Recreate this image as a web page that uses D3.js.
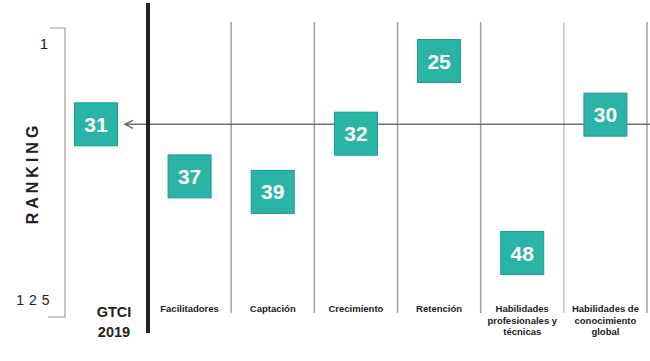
<!DOCTYPE html>
<html><head><meta charset="utf-8">
<script src="https://cdn.jsdelivr.net/npm/d3@7"></script>
<style>body{margin:0;background:#fff}svg{display:block}</style>
</head><body>
<svg id="c" width="650" height="361"></svg>
<script>
const categories = [["Facilitadores"],["Captación"],["Crecimiento"],["Retención"],["Habilidades","profesionales y","técnicas"],["Habilidades de","conocimiento","global"]];
const ranks = [37, 39, 32, 25, 48, 30];
const overallLabel = ["GTCI","2019"];
const overallRank = 31;
const axisTicks = ["1","1 2 5"];
const axisTitle = "RANKING";

const svg = d3.select("#c");
const teal = "#2ab4a5", border = "#1f9a8c";
const font = "Liberation Sans, Arial, sans-serif";

const x = d3.scaleBand().domain(d3.range(categories.length)).range([148, 647]);
const y = d3.scaleLog().domain([25, 48]).range([61, 253]);

// vertical grid lines (column separators)
svg.selectAll("line.grid").data(d3.range(1, categories.length + 1)).enter().append("line")
  .attr("x1", i => x.range()[0] + i * x.step()).attr("x2", i => x.range()[0] + i * x.step())
  .attr("y1", 22).attr("y2", 313)
  .attr("stroke", (d,i) => i === 4 ? "#c8c8c8" : "#a0a0a0").attr("stroke-width", 1.5);

// horizontal reference line with arrow
const ly = y(overallRank);
svg.append("line").attr("x1", 650).attr("x2", 125).attr("y1", ly).attr("y2", ly)
  .attr("stroke", "#707070").attr("stroke-width", 1.5);
svg.append("path").attr("d", `M133,${ly-4} L125,${ly} L133,${ly+4}`)
  .attr("fill","none").attr("stroke","#666").attr("stroke-width",1.4);

// thick separator
svg.append("line").attr("x1",148).attr("x2",148).attr("y1",3).attr("y2",333)
  .attr("stroke","#222").attr("stroke-width",4);

// bracket axis
svg.append("path").attr("d","M50,28 H65 V317 H48").attr("fill","none").attr("stroke","#999").attr("stroke-width",1.2);
svg.append("text").attr("x",48).attr("y",49).attr("text-anchor","end").attr("font-family",font)
  .attr("font-size",15).attr("fill","#222").text(axisTicks[0]);
svg.append("text").attr("x",50).attr("y",305).attr("text-anchor","end").attr("font-family",font)
  .attr("font-size",14).attr("fill","#222").attr("letter-spacing","0.5").text(axisTicks[1]);
svg.append("text").attr("transform","translate(38,173) rotate(-90)").attr("text-anchor","middle")
  .attr("font-family",font).attr("font-weight","bold").attr("font-size",16).attr("letter-spacing","4")
  .attr("fill","#222").text(axisTitle);

// boxes
const bs = 43;
function box(cx, r) {
  const g = svg.append("g");
  g.append("rect").attr("x", cx - bs/2).attr("y", y(r) - bs/2).attr("width", bs).attr("height", bs)
    .attr("fill", teal).attr("stroke", border).attr("stroke-width", 1);
  g.append("text").attr("x", cx).attr("y", y(r) + 7.5).attr("text-anchor","middle")
    .attr("font-family",font).attr("font-weight","bold").attr("font-size",21).attr("fill","#fff").text(r);
}
ranks.forEach((r,i) => box(x(i) + x.bandwidth()/2, r));
box(96, overallRank);

// category labels
categories.forEach((lines,i) => {
  const t = svg.append("text").attr("text-anchor","middle").attr("font-family",font)
    .attr("font-weight","bold").attr("font-size",9.5).attr("fill","#222");
  lines.forEach((l,j) => t.append("tspan").attr("x", x(i) + x.bandwidth()/2).attr("y", 312 + j*11.5).text(l));
});

// GTCI label
const gl = svg.append("text").attr("text-anchor","middle").attr("font-family",font)
  .attr("font-weight","bold").attr("font-size",14.5).attr("fill","#222");
overallLabel.forEach((l,j) => gl.append("tspan").attr("x",114).attr("y",317 + j*20).text(l));
</script>
</body></html>
